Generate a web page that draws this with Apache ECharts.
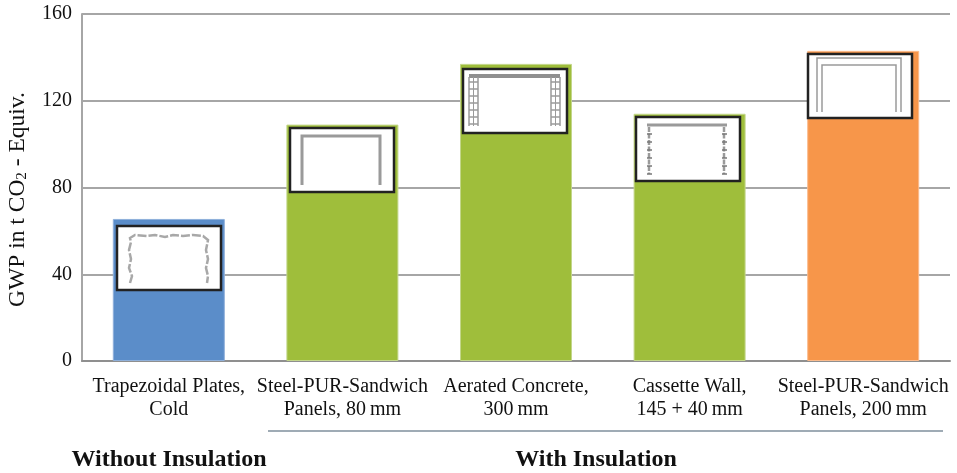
<!DOCTYPE html>
<html>
<head>
<meta charset="utf-8">
<style>html,body{margin:0;padding:0;background:#fff}#c{width:957px;height:473px}</style>
<script src="https://cdn.jsdelivr.net/npm/echarts@6/dist/echarts.min.js"></script>
</head>
<body>
<div id="c"></div>
<script>
const categories = [
  'Trapezoidal Plates,\nCold',
  'Steel-PUR-Sandwich\nPanels, 80\u2009mm',
  'Aerated Concrete,\n300\u2009mm',
  'Cassette Wall,\n145 + 40\u2009mm',
  'Steel-PUR-Sandwich\nPanels, 200\u2009mm'
];
const gwpValues = [65.5, 109, 137, 114, 143];
const barColors = ['#5b8dc9', '#9fbe3b', '#9fbe3b', '#9fbe3b', '#f7964a'];
const barEdges = ['#8fb0da', '#c3d68a', '#c3d68a', '#c3d68a', '#fbbb8c'];
const yTicks = [0, 40, 80, 120, 160];
const groupLabels = ['Without Insulation', 'With Insulation'];
const axisTitle = '{a|GWP in t CO}{s|2}{a| - Equiv.}';

const FONT = '"Liberation Serif","Times New Roman",serif';
const chart = echarts.init(document.getElementById('c'), null, {renderer: 'canvas'});

// Inset sketch placement relative to each bar top and centre
const insetGap = [7, 3, 5, 3, 3];
const insetShift = [0, 0, -1, -2, -3];
const INSET_W = 104, INSET_H = 64;
const GREY = '#9a9a9a';

function poly(pts, lx, ty, w, extra) {
  return {
    type: 'polyline',
    shape: {points: pts.map(p => [lx + p[0], ty + p[1]])},
    style: Object.assign({stroke: GREY, lineWidth: w, fill: null}, extra || {})
  };
}

function sketch(idx, lx, ty) {
  const out = [];
  if (idx === 0) {
    const wavy = [[13,57],[15,50],[12,42],[14,33],[12,24],[14,16],[13,12],[18,9],[30,10],[38,9],[48,11],[56,9],[66,10],[76,9],[86,10],[91,14],[89,24],[91,33],[89,42],[91,50],[90,57]];
    out.push(poly(wavy, lx, ty, 2.5, {lineDash: [9, 2], stroke: '#a8a8a8'}));
  } else if (idx === 1) {
    out.push(poly([[12,57],[12,8],[90,8],[90,57]], lx, ty, 3));
  } else if (idx === 2) {
    out.push(poly([[6,7],[97,7]], lx, ty, 4, {stroke: '#8f8f8f'}));
    [[6,15],[88,97]].forEach(c => {
      out.push(poly([[c[0],8],[c[0],57]], lx, ty, 1.5));
      out.push(poly([[c[1],8],[c[1],57]], lx, ty, 1.5));
      out.push(poly([[(c[0]+c[1])/2,8],[(c[0]+c[1])/2,57]], lx, ty, 1));
      for (let y = 13; y < 58; y += 7) out.push(poly([[c[0],y],[c[1],y]], lx, ty, 1.5));
    });
  } else if (idx === 3) {
    out.push(poly([[11,8],[91,8]], lx, ty, 3));
    [13, 88].forEach(x => {
      out.push(poly([[x,10],[x,57]], lx, ty, 2.5, {lineDash: [5, 1.5]}));
      for (let y = 17; y < 58; y += 8) out.push(poly([[x-2,y],[x+3,y]], lx, ty, 1.5, {stroke: '#777'}));
    });
  } else {
    out.push(poly([[9,58],[9,4],[93,4],[93,58]], lx, ty, 1.5));
    out.push(poly([[14,58],[14,11],[88,11],[88,58]], lx, ty, 1.5));
  }
  return out;
}

chart.setOption({
  animation: false,
  backgroundColor: '#fff',
  grid: {left: 82, right: 7, top: 14, bottom: 112, outerBoundsMode: 'none'},
  xAxis: {
    type: 'category',
    data: categories,
    axisLine: {lineStyle: {color: '#8f8f8f', width: 2}},
    axisTick: {show: false},
    axisLabel: {interval: 0, hideOverlap: false, color: '#111', fontFamily: FONT, fontSize: 20, lineHeight: 23, margin: 14}
  },
  yAxis: {
    type: 'value',
    min: yTicks[0],
    max: yTicks[yTicks.length - 1],
    interval: 40,
    axisLine: {show: true, lineStyle: {color: '#a6a6a6', width: 2}},
    axisTick: {show: false},
    axisLabel: {color: '#111', fontFamily: FONT, fontSize: 20, margin: 10, padding: [3, 0, 0, 0]},
    splitLine: {lineStyle: {color: '#a6a6a6', width: 2}},
    name: axisTitle,
    nameLocation: 'middle',
    nameGap: 52,
    nameRotate: 90,
    nameTextStyle: {
      padding: [0, 24, 0, 0],
      rich: {
        a: {fontFamily: FONT, fontSize: 23.5, color: '#111'},
        s: {fontFamily: FONT, fontSize: 15, color: '#111', padding: [8, 0, 0, 0]}
      }
    }
  },
  series: [
    {
      type: 'bar',
      barWidth: 112,
      data: gwpValues.map((v, i) => ({
        value: v,
        itemStyle: {color: barColors[i], borderColor: barEdges[i], borderWidth: 1}
      }))
    },
    {
      type: 'custom',
      data: gwpValues.map((v, i) => [i, v]),
      z: 5,
      renderItem: function (params, api) {
        const idx = api.value(0);
        const p = api.coord([idx, api.value(1)]);
        const lx = Math.round(p[0] - INSET_W / 2 + insetShift[idx]);
        const ty = Math.round(p[1] + insetGap[idx]);
        return {
          type: 'group',
          children: [{
            type: 'rect',
            shape: {x: lx, y: ty, width: INSET_W, height: INSET_H},
            style: {fill: '#fff', stroke: '#222', lineWidth: 2.5}
          }].concat(sketch(idx, lx, ty))
        };
      }
    }
  ],
  graphic: [
    {type: 'line', shape: {x1: 268, y1: 431, x2: 943, y2: 431}, style: {stroke: '#7f8f9c', lineWidth: 1.5}},
    {type: 'text', x: 169, y: 460, style: {text: groupLabels[0], font: 'bold 24px ' + FONT, fill: '#111', textAlign: 'center', textVerticalAlign: 'middle'}},
    {type: 'text', x: 596, y: 460, style: {text: groupLabels[1], font: 'bold 24px ' + FONT, fill: '#111', textAlign: 'center', textVerticalAlign: 'middle'}}
  ]
});
</script>
</body>
</html>
